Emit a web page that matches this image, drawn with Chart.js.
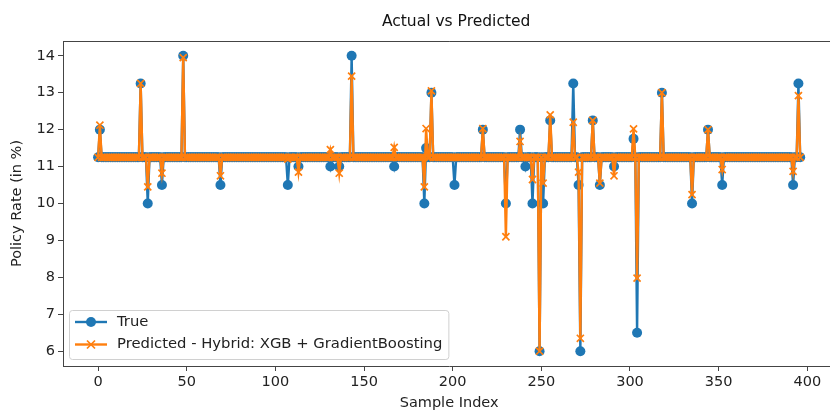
<!DOCTYPE html>
<html>
<head>
<meta charset="utf-8">
<script src="https://cdn.jsdelivr.net/npm/chart.js@4"></script>
<style>
  html, body { margin: 0; padding: 0; background: #fff; overflow: hidden; }
  canvas { display: block; }
</style>
</head>
<body>
<canvas id="myChart" width="842" height="410"></canvas>
<script>
// samples 0..396, most of them sit on the 11.25 rate
const nSamples = 397;
const baseRate = 11.25;
const spikeIndex = [1, 24, 28, 36, 48, 69, 107, 113, 131, 136, 143, 167, 184, 185, 188, 201,
                    217, 230, 238, 241, 245, 249, 251, 255, 268, 271, 272, 279, 283, 291,
                    302, 304, 318, 335, 344, 352, 392, 395];
const trueSpikes = [12.0, 13.25, 10.0, 10.5, 14.0, 10.5, 10.5, 11.0, 11.0, 11.0, 14.0, 11.0, 10.0, 11.5, 13.0, 10.5,
                    12.0, 10.0, 12.0, 11.0, 10.0, 6.0, 10.0, 12.25, 13.25, 10.5, 6.0, 12.25, 10.5, 11.0,
                    11.75, 6.5, 13.0, 10.0, 12.0, 10.5, 10.5, 13.25];
const predSpikes = [12.12, 13.25, 10.45, 10.82, 13.95, 10.75, 11.2, 10.85, 11.46, 10.82, 13.45, 11.52, 10.45, 12.03, 13.05, 11.25,
                    12.03, 9.1, 11.68, 11.25, 10.65, 6.0, 10.55, 12.4, 12.2, 10.85, 6.35, 12.25, 10.55, 10.75,
                    12.02, 7.98, 13.0, 10.24, 12.0, 10.92, 10.87, 12.92];
const xTicks = [0, 50, 100, 150, 200, 250, 300, 350, 400];

const blue = '#1f77b4';
const orange = '#ff7f0e';
const font = 'DejaVu Sans';

let trueData = [];
let predData = [];
for (let i = 0; i < nSamples; i++) {
    trueData.push({ x: i, y: baseRate });
    predData.push({ x: i, y: baseRate });
}
spikeIndex.forEach((idx, k) => {
    trueData[idx].y = trueSpikes[k];
    predData[idx].y = predSpikes[k];
});

const ctx = document.getElementById('myChart');

const decor = {
    id: 'decor',
    afterDraw(chart) {
        const c = chart.ctx;
        const area = chart.chartArea;
        c.save();
        // top spine
        c.strokeStyle = '#444';
        c.lineWidth = 1;
        c.beginPath();
        c.moveTo(area.left, area.top + 0.5);
        c.lineTo(area.right, area.top + 0.5);
        c.stroke();

        // title
        c.fillStyle = '#111';
        c.font = '15.5px "' + font + '"';
        c.textAlign = 'center';
        c.textBaseline = 'middle';
        c.fillText('Actual vs Predicted', (area.left + area.right) / 2 + 7, 22);

        // legend
        const sets = chart.data.datasets;
        c.font = '14.8px "' + font + '"';
        let w = 0;
        sets.forEach(d => { w = Math.max(w, c.measureText(d.label).width); });
        const bx = 69, by = 310, bw = w + 54, bh = 49;
        c.fillStyle = 'rgba(255,255,255,0.8)';
        c.strokeStyle = '#d0d0d0';
        c.beginPath();
        c.roundRect(bx + 0.5, by + 0.5, bw, bh, 3);
        c.fill();
        c.stroke();
        sets.forEach((d, k) => {
            const y = by + 12 + k * 22.5;
            c.strokeStyle = d.borderColor;
            c.lineWidth = 2.4;
            c.beginPath();
            c.moveTo(bx + 6, y);
            c.lineTo(bx + 38, y);
            c.stroke();
            if (d.pointStyle === 'circle') {
                c.fillStyle = d.borderColor;
                c.beginPath();
                c.arc(bx + 22, y, 5, 0, Math.PI * 2);
                c.fill();
            } else {
                c.lineWidth = 1.7;
                c.beginPath();
                c.moveTo(bx + 18, y - 4); c.lineTo(bx + 26, y + 4);
                c.moveTo(bx + 18, y + 4); c.lineTo(bx + 26, y - 4);
                c.stroke();
            }
            c.fillStyle = '#222';
            c.textAlign = 'left';
            c.textBaseline = 'middle';
            c.fillText(d.label, bx + 48, y);
        });
        c.restore();
    }
};

const config = {
    type: 'line',
    data: {
        datasets: [
            {
                label: 'True',
                data: trueData,
                borderColor: blue,
                backgroundColor: blue,
                borderWidth: 2.4,
                pointStyle: 'circle',
                pointRadius: 5,
                pointBorderWidth: 0,
                pointBackgroundColor: blue,
                order: 1
            },
            {
                label: 'Predicted - Hybrid: XGB + GradientBoosting',
                data: predData,
                borderColor: orange,
                backgroundColor: orange,
                borderWidth: 2.4,
                pointStyle: 'crossRot',
                pointRadius: 5,
                pointBorderWidth: 1.7,
                pointBorderColor: orange,
                order: 0
            }
        ]
    },
    options: {
        responsive: false,
        animation: false,
        devicePixelRatio: 1,
        layout: { padding: { top: 41, right: 3, left: 0, bottom: 0 } },
        plugins: {
            legend: { display: false },
            title: { display: false },
            tooltip: { enabled: false }
        },
        scales: {
            x: {
                type: 'linear',
                min: -19.8,
                max: 415.8,
                afterFit: s => { s.height = 44; },
                afterBuildTicks: s => { s.ticks = xTicks.map(v => ({ value: v })); },
                grid: { drawOnChartArea: false, drawTicks: true, tickLength: 5, color: '#444' },
                border: { color: '#444', width: 1 },
                ticks: { color: '#222', padding: 3, font: { family: font, size: 14.5 } },
                title: {
                    display: true, text: 'Sample Index', color: '#222',
                    font: { family: font, size: 14.5, lineHeight: 1 },
                    padding: { top: 0, bottom: 0 }
                }
            },
            y: {
                min: 5.6,
                max: 14.4,
                afterFit: s => { s.width = 63; },
                grid: { drawOnChartArea: false, drawTicks: true, tickLength: 5, color: '#444' },
                border: { color: '#444', width: 1 },
                ticks: { stepSize: 1, includeBounds: false, color: '#222', padding: 3, font: { family: font, size: 14.5 } },
                title: {
                    display: true, text: 'Policy Rate (in %)', color: '#222',
                    font: { family: font, size: 14.5, lineHeight: 1.2 },
                    padding: { top: 9, bottom: 0 }
                }
            }
        }
    },
    plugins: [decor]
};

let newChart = new Chart(ctx, config);
</script>
</body>
</html>
